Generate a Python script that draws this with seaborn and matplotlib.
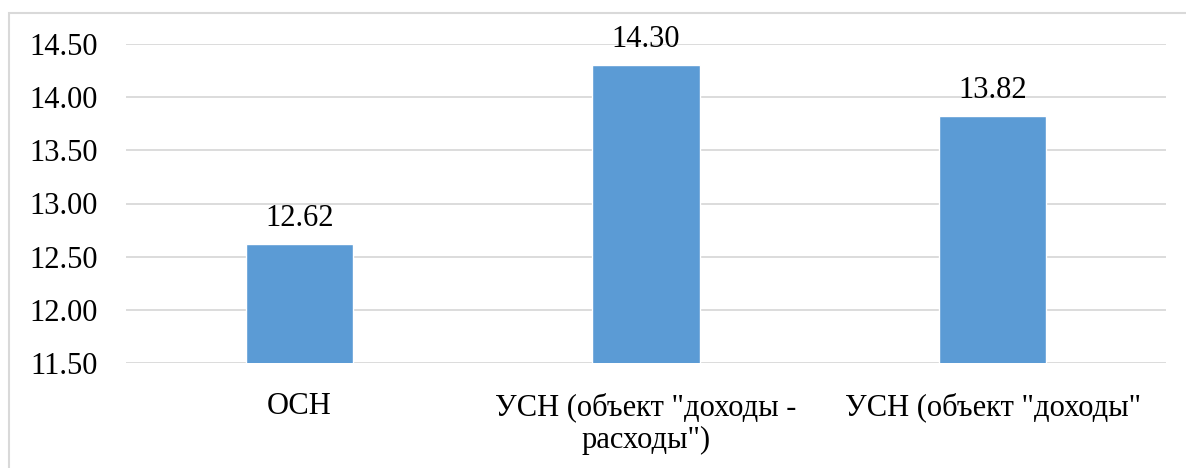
import matplotlib
matplotlib.use("Agg")
import matplotlib.pyplot as plt
import seaborn as sns
import pandas as pd
from matplotlib.patches import Rectangle

categories = ["ОСН", "УСН (объект \"доходы -\nрасходы\")", "УСН (объект \"доходы\""]
values = [12.62, 14.30, 13.82]
yticks = [11.50, 12.00, 12.50, 13.00, 13.50, 14.00, 14.50]

sns.set_theme(style="white")
plt.rcParams["font.family"] = ["Liberation Serif", "DejaVu Serif"]

df = pd.DataFrame({"regime": categories, "value": values})

fig = plt.figure(figsize=(11.86, 4.68), dpi=100)
ax = fig.add_axes([126 / 1186, 1 - 363 / 468, (1166 - 126) / 1186, (363 - 44) / 468])

sns.barplot(data=df, x="regime", y="value", color="#5B9BD5", saturation=1,
            width=0.31, ax=ax, zorder=3)

ax.set_ylim(11.5, 14.5)
ax.set_yticks(yticks)
ax.set_yticklabels([f"{t:.2f}" for t in yticks])
ax.yaxis.grid(True, color="#D9D9D9", linewidth=1.3, zorder=0)
ax.set_axisbelow(True)
for s in ax.spines.values():
    s.set_visible(False)
ax.tick_params(axis="y", length=0, pad=20, labelsize=22, labelcolor="black")
ax.tick_params(axis="x", length=0, pad=21, labelsize=22, labelcolor="black")
ax.set_xlabel("")
ax.set_ylabel("")

for i, v in enumerate(values):
    ax.annotate(f"{v:.2f}", (i, v), xytext=(0, 8), textcoords="offset points",
                ha="center", va="bottom", fontsize=22, color="black")

fig.patches.append(Rectangle((9 / 1186, -0.1), 1.2, 1 - 13 / 468 + 0.1,
                             transform=fig.transFigure, fill=False,
                             edgecolor="#D9D9D9", linewidth=1.5))

fig.savefig("out.png", dpi=100)
